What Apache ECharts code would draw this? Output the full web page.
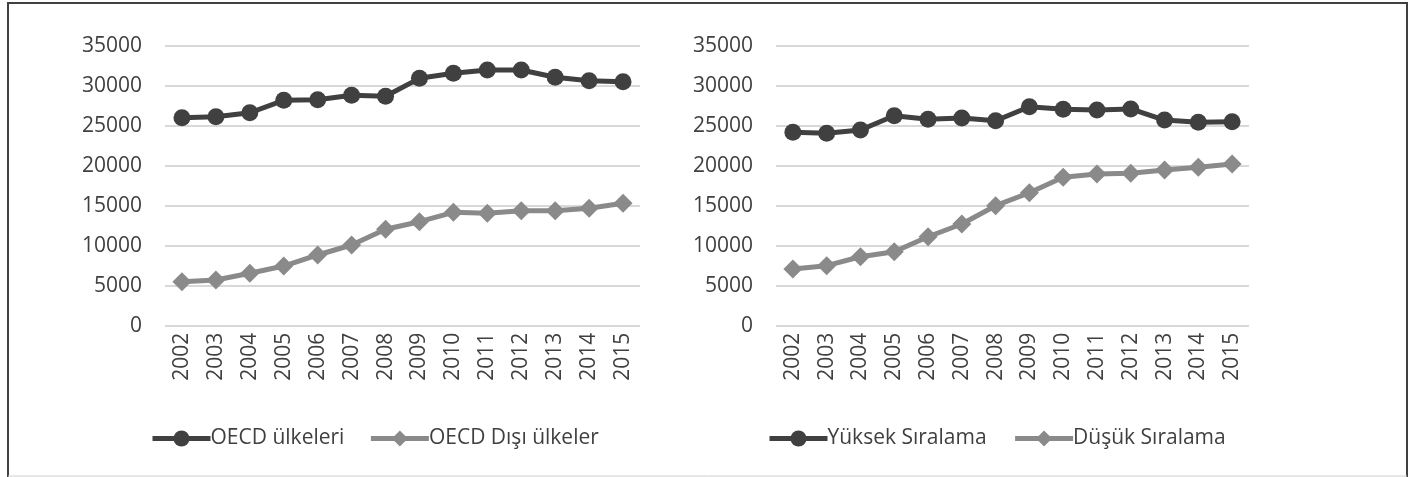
<!DOCTYPE html>
<html>
<head>
<meta charset="utf-8">
<script src="https://cdn.jsdelivr.net/npm/echarts@6/dist/echarts.min.js"></script>
<style>
html,body{margin:0;padding:0;background:#fff;}
#c{width:1417px;height:477px;}
</style>
</head>
<body>
<div id="c"></div>
<script>
const years = ['2002','2003','2004','2005','2006','2007','2008','2009','2010','2011','2012','2013','2014','2015'];
const oecd = [26000,26120,26620,28170,28250,28800,28680,30920,31550,31960,31960,31050,30620,30500];
const nonOecd = [5500,5710,6550,7460,8840,10090,12050,13000,14170,14050,14370,14370,14670,15300];
const highRank = [24170,24050,24460,26250,25800,25960,25620,27370,27050,26960,27090,25710,25420,25500];
const lowRank = [7090,7500,8620,9250,11120,12710,15000,16620,18550,18960,19050,19460,19800,20210];
const yTicks = {min:0, max:35000, interval:5000};
const names = ['OECD ülkeleri','OECD Dışı ülkeler','Yüksek Sıralama','Düşük Sıralama'];

const FONT = 'Open Sans';
const TXT = '#404040';
const DARK = '#404040';
const LIGHT = '#8a8a8a';

function xAxis(i){
  return {type:'category', gridIndex:i, data:years, boundaryGap:true,
    axisLine:{show:false}, axisTick:{show:false},
    axisLabel:{rotate:90, margin:7, color:TXT, fontFamily:FONT, fontSize:21, interval:0}};
}
function yAxis(i){
  return {type:'value', gridIndex:i, min:yTicks.min, max:yTicks.max, interval:yTicks.interval,
    axisLine:{show:false}, axisTick:{show:false},
    axisLabel:{margin:23, color:TXT, fontFamily:FONT, fontSize:21, formatter:function(v){return String(v);}},
    splitLine:{lineStyle:{color:'#d9d9d9', width:2}}};
}
function series(name, data, i, color, symbol, size){
  return {name:name, type:'line', xAxisIndex:i, yAxisIndex:i, data:data,
    symbol:symbol, symbolSize:size, showSymbol:true,
    lineStyle:{color:color, width:5}, itemStyle:{color:color},
    emphasis:{disabled:true}, animation:false, z:(color===DARK?3:2)};
}
function legend(data, left, gap){
  return {data:data, left:left, top:423, itemWidth:58, itemHeight:20, itemGap:gap,
    lineStyle:{width:5},
    textStyle:{color:TXT, fontFamily:FONT, fontSize:21, padding:[0,0,0,-5]}};
}
const chart = echarts.init(document.getElementById('c'), null, {renderer:'canvas'});
chart.setOption({
  animation:false,
  backgroundColor:'#fff',
  grid:[
    {left:165, right:777, top:45.7, bottom:151.3},
    {left:776, right:168, top:45.7, bottom:151.3}
  ],
  xAxis:[xAxis(0), xAxis(1)],
  yAxis:[yAxis(0), yAxis(1)],
  legend:[
    legend([names[0],names[1]], 145, 24),
    legend([names[2],names[3]], 762, 26)
  ],
  series:[
    series(names[0], oecd, 0, DARK, 'circle', 17),
    series(names[1], nonOecd, 0, LIGHT, 'diamond', 19),
    series(names[2], highRank, 1, DARK, 'circle', 17),
    series(names[3], lowRank, 1, LIGHT, 'diamond', 19)
  ],
  graphic:[
    {type:'polyline', shape:{points:[[8,477],[8,3],[1407,3],[1407,477]]},
      style:{stroke:'#404040', lineWidth:2, fill:null}, silent:true},
    {type:'line', shape:{x1:8, y1:476, x2:1407, y2:476},
      style:{stroke:'#d0d0d0', lineWidth:1}, silent:true}
  ]
});
</script>
</body>
</html>
